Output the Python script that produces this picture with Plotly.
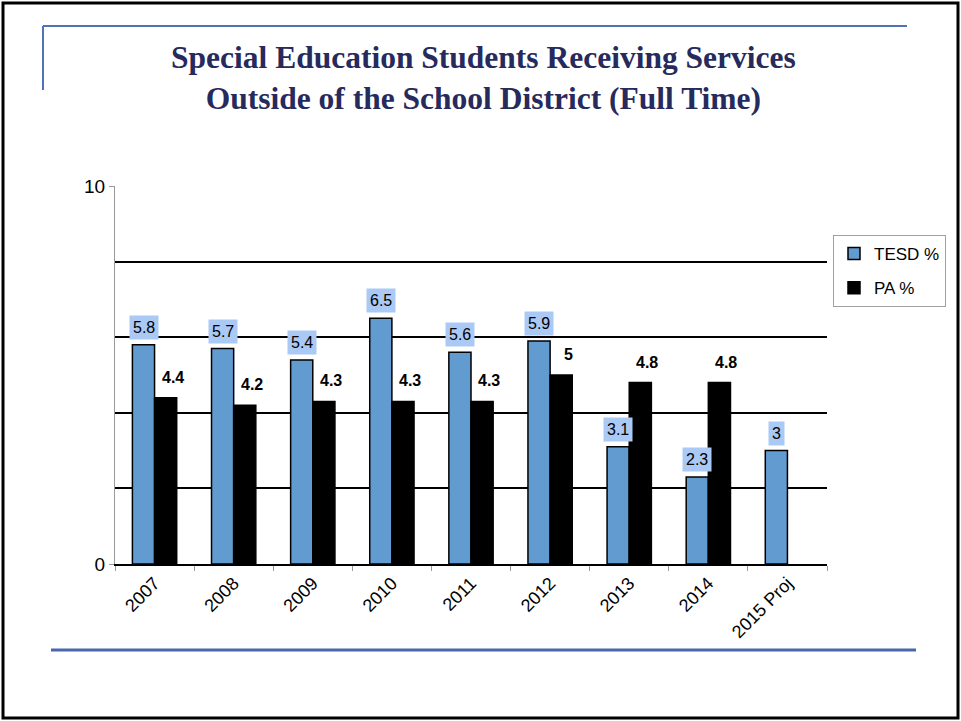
import plotly.graph_objects as go

categories = ["2007", "2008", "2009", "2010", "2011", "2012", "2013", "2014", "2015 Proj"]
tesd_values = [5.8, 5.7, 5.4, 6.5, 5.6, 5.9, 3.1, 2.3, 3.0]
pa_values = [4.4, 4.2, 4.3, 4.3, 4.3, 5.0, 4.8, 4.8, None]
series_names = ["TESD %", "PA %"]
title_lines = ["Special Education Students Receiving Services",
               "Outside of the School District (Full Time)"]

W, H = 961, 721
L, R, T, B = 115, 827, 186, 564  # plot area in pixels


def px(x):
    return (x - L) / (R - L)


def py(y):
    return (B - y) / (B - T)


TESD_COLOR = "#629bd0"
fig = go.Figure()
fig.add_trace(go.Bar(x=categories, y=tesd_values, name=series_names[0],
                     marker=dict(color=TESD_COLOR, line=dict(color="black", width=1.5)),
                     legendgroup="a"))
fig.add_trace(go.Bar(x=categories, y=pa_values, name=series_names[1],
                     marker=dict(color="black", line=dict(color="black", width=1.5)),
                     legendgroup="b"))

annotations = []
for i, v in enumerate(tesd_values):
    if v is None:
        continue
    annotations.append(dict(x=i, y=v, xref="x", yref="y", text=f"{v:g}", showarrow=False,
                            xanchor="center", yanchor="bottom", xshift=-11, yshift=5,
                            bgcolor="#abc9f5", borderpad=3,
                            font=dict(family="Liberation Sans, Arial", size=16, color="black")))
for i, v in enumerate(pa_values):
    if v is None:
        continue
    annotations.append(dict(x=i, y=v, xref="x", yref="y", text=f"<b>{v:g}</b>", showarrow=False,
                            xanchor="center", yanchor="bottom", xshift=18, yshift=10,
                            font=dict(family="Liberation Sans, Arial", size=16, color="black")))

annotations.append(dict(x=px(483), y=py(78), xref="paper", yref="paper",
                        text="<b>" + "<br>".join(title_lines) + "</b>", showarrow=False,
                        xanchor="center", yanchor="middle", align="center",
                        font=dict(family="Liberation Serif, Times New Roman, serif", size=31.5,
                                  color="#262a5c")))

shapes = [
    dict(type="rect", xref="paper", yref="paper", x0=px(3), x1=px(958), y0=py(718), y1=py(3),
         line=dict(color="black", width=3), layer="below"),
    dict(type="line", xref="paper", yref="paper", x0=px(43), x1=px(43), y0=py(26), y1=py(90),
         line=dict(color="#4f72b8", width=2)),
    dict(type="line", xref="paper", yref="paper", x0=px(43), x1=px(907), y0=py(26), y1=py(26),
         line=dict(color="#4f72b8", width=2)),
    dict(type="line", xref="paper", yref="paper", x0=px(51), x1=px(916), y0=py(650), y1=py(650),
         line=dict(color="#4a67ad", width=3)),
]

fig.update_layout(
    width=W, height=H,
    margin=dict(l=L, r=W - R, t=T, b=H - B, pad=0),
    paper_bgcolor="white", plot_bgcolor="white",
    barmode="group", bargap=0.44, bargroupgap=0,
    font=dict(family="Liberation Sans, Arial", size=16, color="black"),
    showlegend=True,
    legend=dict(x=px(833), y=py(235), xanchor="left", yanchor="top",
                bordercolor="#a0a0a0", borderwidth=1, bgcolor="white",
                font=dict(size=17), tracegroupgap=9, itemwidth=30),
    annotations=annotations,
    shapes=shapes,
    xaxis=dict(type="category", showline=True, linecolor="black", linewidth=1.5,
               ticks="outside", tickson="boundaries", ticklen=5, tickcolor="#999999",
               tickangle=-45, tickfont=dict(size=18), showgrid=False, zeroline=False),
    yaxis=dict(range=[0, 10], tickvals=[0, 10], ticktext=["0", "10"],
               showline=True, linecolor="#999999", linewidth=1,
               ticks="outside", ticklen=5, tickcolor="#999999", tickfont=dict(size=19),
               showgrid=True, gridcolor="#999999", gridwidth=1, zeroline=False,
               minor=dict(tickvals=[2, 4, 6, 8], showgrid=True, gridcolor="black",
                          gridwidth=1.5, ticks="")),
)

fig.write_html("out.html", config={"displayModeBar": False},
               post_script="document.body.style.margin='0';document.body.style.padding='0';")
